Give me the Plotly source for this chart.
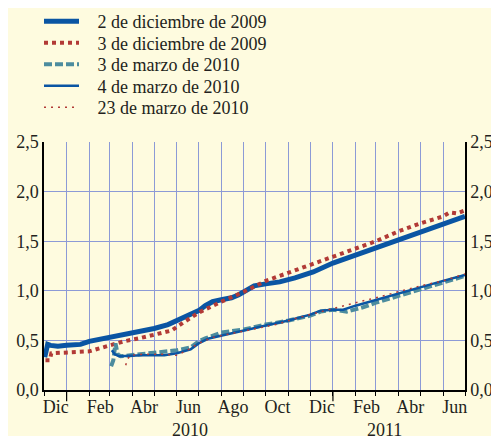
import plotly.graph_objects as go

# ---- data ----
s1_dates = ["2009-12-02","2009-12-04","2009-12-06","2009-12-10","2009-12-20","2010-01-01","2010-01-20",
            "2010-02-01","2010-03-01","2010-04-01","2010-05-01","2010-05-20","2010-06-01","2010-06-15",
            "2010-07-01","2010-07-10","2010-07-20","2010-08-01","2010-08-15","2010-08-25","2010-09-05",
            "2010-09-15","2010-10-01","2010-10-20","2010-11-10","2010-12-01","2010-12-05","2011-01-01",
            "2011-02-01","2011-03-01","2011-04-01","2011-05-01","2011-06-01","2011-07-01"]
s1_vals = [0.33,0.40,0.46,0.45,0.44,0.45,0.46,
           0.49,0.53,0.57,0.62,0.66,0.70,0.75,
           0.80,0.85,0.89,0.91,0.93,0.96,1.01,
           1.05,1.07,1.09,1.13,1.17,1.19,1.28,
           1.36,1.44,1.52,1.59,1.67,1.75]

s2_dates = ["2009-12-03","2009-12-09","2009-12-11","2010-01-01","2010-02-01","2010-02-20","2010-03-01",
            "2010-03-20","2010-04-10","2010-05-01","2010-05-25","2010-06-12","2010-07-01","2010-08-01",
            "2010-09-01","2010-10-01","2010-11-01","2010-12-01","2011-01-01","2011-02-01","2011-03-01",
            "2011-04-01","2011-05-01","2011-06-01","2011-06-10","2011-06-20","2011-07-01"]
s2_vals = [0.30,0.30,0.37,0.38,0.39,0.43,0.45,
           0.49,0.52,0.56,0.60,0.69,0.78,0.89,
           0.99,1.10,1.18,1.26,1.34,1.42,1.50,
           1.60,1.68,1.75,1.79,1.78,1.81]

s3_dates = ["2010-03-03","2010-03-06","2010-03-09","2010-03-12","2010-03-16","2010-04-10","2010-05-10",
            "2010-06-01","2010-06-20","2010-07-01","2010-07-10","2010-08-01","2010-09-01","2010-10-01",
            "2010-11-01","2010-12-01","2010-12-15","2011-01-01","2011-01-20","2011-02-10","2011-03-01",
            "2011-04-01","2011-05-01","2011-06-01","2011-07-01"]
s3_vals = [0.24,0.30,0.47,0.36,0.34,0.36,0.38,
           0.40,0.43,0.49,0.52,0.58,0.61,0.66,
           0.70,0.75,0.79,0.81,0.79,0.83,0.88,
           0.95,1.02,1.08,1.15]

s4_dates = ["2010-03-04","2010-03-08","2010-03-14","2010-04-15","2010-05-15","2010-06-01","2010-06-20",
            "2010-07-01","2010-07-15","2010-08-01","2010-09-01","2010-10-01","2010-11-01","2010-12-01",
            "2010-12-15","2011-01-01","2011-01-15","2011-02-01","2011-03-01","2011-04-01","2011-05-01",
            "2011-06-01","2011-07-01"]
s4_vals = [0.40,0.36,0.34,0.35,0.35,0.37,0.41,
           0.47,0.52,0.55,0.60,0.65,0.70,0.76,
           0.80,0.81,0.81,0.85,0.91,0.97,1.04,
           1.10,1.16]

s5_dates = ["2010-03-23","2010-03-25","2010-03-29","2010-04-15","2010-05-15","2010-06-01","2010-06-15",
            "2010-07-01","2010-07-20","2010-08-15","2010-09-15","2010-10-15","2010-11-15","2010-12-15",
            "2011-01-01","2011-02-01","2011-03-01","2011-04-01","2011-05-01","2011-06-01","2011-07-01"]
s5_vals = [0.25,0.30,0.35,0.36,0.36,0.35,0.40,
           0.47,0.53,0.57,0.61,0.66,0.73,0.79,
           0.82,0.88,0.93,0.99,1.05,1.10,1.17]

series_names = ["2 de diciembre de 2009", "3 de diciembre de 2009", "3 de marzo de 2010",
                "4 de marzo de 2010", "23 de marzo de 2010"]

month_tick_vals = ["2009-12-17","2010-02-16","2010-04-17","2010-06-17","2010-08-17","2010-10-17",
                   "2010-12-17","2011-02-16","2011-04-17","2011-06-17"]
month_tick_text = ["Dic","Feb","Abr","Jun","Ago","Oct","Dic","Feb","Abr","Jun"]
year_labels = ["2010", "2011"]
year_label_pos = ["2010-06-19", "2011-03-13"]
year_starts = ["2010-01-01", "2011-01-01"]

y_ticks = [0.0, 0.5, 1.0, 1.5, 2.0, 2.5]

# ---- styling ----
BG = "#FEFBDF"
GRID = "#8C9AD6"
BLUE = "#0A55A3"
RED = "#B23A36"
TEAL = "#4C8C9E"
FONT = "Liberation Serif"
TXT = "#231F20"
FS = 18
PAD = "\u00a0" * 3
OFF = 8                      # page body margin of the html page
W, H = 499 - OFF, 436 - OFF
ML, MT = 44 - OFF, 142 - OFF
MR, MB = W - (465 - OFF), H - (390 - OFF)
PW, PH = W - ML - MR, H - MT - MB
legend_rows_px = [21.5 - OFF, 43 - OFF, 64.5 - OFF, 86 - OFF, 107.5 - OFF]
legend_left_px = 39 - OFF

styles = [dict(color=BLUE, width=5),
          dict(color=RED, width=4, dash="dot"),
          dict(color=TEAL, width=4, dash="8px,3px"),
          dict(color=BLUE, width=2.5),
          dict(color=RED, width=1.5, dash="2px,5px")]
all_dates = [s1_dates, s2_dates, s3_dates, s4_dates, s5_dates]
all_vals = [s1_vals, s2_vals, s3_vals, s4_vals, s5_vals]
legend_ids = ["legend", "legend2", "legend3", "legend4", "legend5"]

fig = go.Figure()
for d, v, nm, st, lg in zip(all_dates, all_vals, series_names, styles, legend_ids):
    fig.add_trace(go.Scatter(x=d, y=v, mode="lines", name=PAD + nm, line=st, legend=lg))

# invisible trace so the right-hand axis is drawn
fig.add_trace(go.Scatter(x=[s1_dates[0]], y=[s1_vals[0]], yaxis="y2", mode="lines",
                         showlegend=False, hoverinfo="skip", line=dict(width=0), opacity=0))

for d in year_starts:
    fig.add_shape(type="line", xref="x", yref="paper", x0=d, x1=d, y0=0, y1=-0.045,
                  line=dict(color="black", width=1.2))

for lbl, pos in zip(year_labels, year_label_pos):
    fig.add_annotation(x=pos, y=-0.112, xref="x", yref="paper", text=lbl, showarrow=False,
                       yanchor="top", font=dict(family=FONT, size=FS, color=TXT))

legend_layout = {}
for lg, py in zip(legend_ids, legend_rows_px):
    legend_layout[lg] = dict(x=(legend_left_px - ML) / PW, y=(H - MB - py) / PH,
                             xanchor="left", yanchor="middle", bgcolor="rgba(0,0,0,0)",
                             font=dict(family=FONT, size=FS, color=TXT), itemwidth=35)

fig.update_layout(
    width=W, height=H,
    paper_bgcolor=BG, plot_bgcolor=BG,
    margin=dict(l=ML, r=MR, t=MT, b=MB, autoexpand=False),
    separators=",.",
    font=dict(family=FONT, size=FS, color=TXT),
    showlegend=True,
    xaxis=dict(type="date", range=["2009-12-01", "2011-07-01"],
               tickmode="array", tickvals=month_tick_vals, ticktext=month_tick_text,
               ticks="", showgrid=False, showline=True, linecolor="black", linewidth=1.5,
               zeroline=False, tickfont=dict(family=FONT, size=FS, color=TXT),
               minor=dict(tickmode="linear", tick0="2009-12-01", dtick="M1", ticks="outside",
                          ticklen=4, tickcolor="black", tickwidth=1.2,
                          showgrid=True, gridcolor=GRID, gridwidth=1)),
    yaxis=dict(range=[0, 2.5], tickmode="array", tickvals=y_ticks, tickformat=".1f",
               showgrid=True, gridcolor=GRID, gridwidth=1, zeroline=False,
               showline=True, linecolor="black", linewidth=1.5, ticks="",
               tickfont=dict(family=FONT, size=FS, color=TXT)),
    yaxis2=dict(range=[0, 2.5], overlaying="y", side="right", tickmode="array",
                tickvals=y_ticks, tickformat=".1f", showgrid=False, zeroline=False,
                showline=True, linecolor="black", linewidth=1.5, ticks="",
                tickfont=dict(family=FONT, size=FS, color=TXT)),
    **legend_layout,
)

fig.write_html("out.html")
